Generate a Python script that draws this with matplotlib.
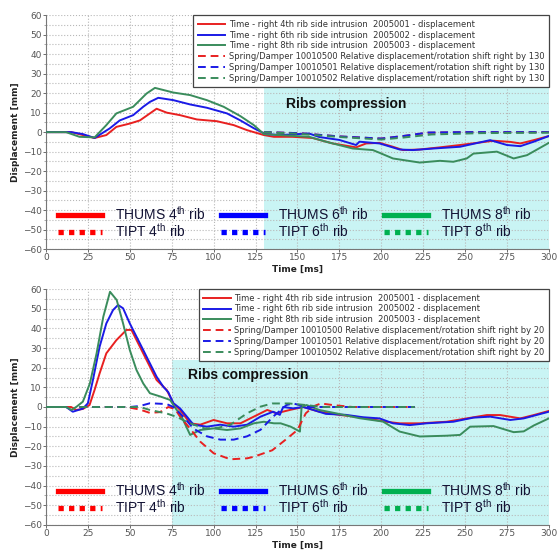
import matplotlib
matplotlib.use("Agg")
import matplotlib.pyplot as plt
from matplotlib.lines import Line2D
from matplotlib.ticker import MultipleLocator

plt.rcParams['mathtext.fontset'] = 'custom'
plt.rcParams['mathtext.rm'] = 'Liberation Sans'

# ---------------- data: top panel (TIPT shifted by 130) ----------------
top_red_t = [0, 15, 22, 29, 36, 42, 50, 56, 62, 66, 72, 80, 90, 102, 112, 120, 130, 136, 147, 159,
             171, 185, 191, 199, 207, 213, 223, 235, 247, 259, 267, 277, 283, 291, 300]
top_red_v = [0, 0, -1.5, -3, -1.5, 2.7, 4.4, 6, 9.6, 12, 10, 8.7, 6.5, 5.6, 3.6, 1, -1.5, -2.4, -2.4, -3,
             -5.8, -7.8, -5.8, -5.5, -7.5, -9.2, -8.9, -7.8, -6.6, -5.3, -4.4, -5, -5.8, -4.1, -2]

top_blue_t = [0, 15, 22, 29, 38, 44, 52, 58, 62, 67, 76, 86, 96, 108, 116, 124, 131, 140, 150, 157,
              163, 175, 185, 187, 199, 211, 219, 231, 247, 265, 275, 283, 291, 300]
top_blue_v = [0, 0, -1, -3, 1.9, 6, 8.7, 13, 15.5, 17.6, 16.4, 14.2, 12.5, 9.6, 6, 2, -1, -1.5, -1, -0.7,
              -2.5, -4, -6.6, -4.9, -5.8, -8.9, -9.2, -8.4, -7.5, -4.1, -6.6, -7.2, -4.9, -2]

top_green_t = [0, 12, 20, 29, 36, 42, 52, 60, 65, 76, 86, 96, 106, 116, 124, 130, 139, 157, 167, 183,
               195, 199, 207, 223, 235, 243, 251, 255, 269, 279, 287, 300]
top_green_v = [0, 0, -2.4, -2.7, 3.6, 9.6, 13, 19.8, 22.7, 20.3, 19, 16.4, 13, 8.2, 3.6, -1, -1.5, -2.4, -4.9, -8.4,
               -9.2, -10.6, -13.5, -15.6, -14.7, -15.2, -13.5, -11, -10, -13.5, -11.8, -5.5]

top_red_d_t = [130, 150, 175, 200, 213, 228, 250, 300]
top_red_d_v = [0, -0.5, -2.2, -3.3, -2, -0.3, 0, 0]
top_blue_d_t = [130, 150, 175, 200, 213, 228, 250, 300]
top_blue_d_v = [0, -0.5, -2.2, -3.3, -2, -0.2, 0, 0]
top_green_d_t = [130, 150, 175, 200, 213, 230, 260, 300]
top_green_d_v = [0, -0.8, -2.5, -3.8, -2.8, -1.2, -0.5, -0.3]

# ---------------- data: bottom panel (TIPT shifted by 20) ----------------
bot_red_t = [0, 15, 18, 22, 26, 29, 32, 36, 42, 48, 51, 56, 62, 66, 72, 76, 80, 86, 92, 100, 108, 116,
             124, 132, 137.5, 145.5, 153.5, 163, 175, 187, 203, 211, 223, 239, 251, 263, 271, 283, 291, 300]
bot_red_v = [0, 0, -1.5, -1, 1, 8.7, 17.1, 27.3, 34, 39.2, 39.2, 30.7, 20.5, 13.7, 8.7, 1.9, -1.5, -8.3, -9, -6.6, -8.3, -8.3,
             -4.9, -1.5, -3.2, -1.5, 0, -2.4, -4, -5.2, -7.5, -8.3, -8.3, -7.5, -5.8, -4.1, -4.1, -5.8, -4.1, -2]

bot_blue_t = [0, 12, 16, 22, 25, 28, 32, 36, 40, 43, 46, 50, 56, 62, 66, 70, 73, 76, 80, 88, 96, 104, 112,
              120, 128, 135.5, 139.5, 141.5, 147.5, 153.5, 159.5, 167, 179, 189, 199, 207, 217, 227, 243,
              255, 265, 277, 285, 300]
bot_blue_v = [0, 0, -2.4, -0.8, 1.9, 13.7, 30.7, 42.5, 49.3, 51.9, 50.2, 42.5, 32.4, 22.2, 15.4, 10.3, 7.5, 1.9, -0.7, -9, -10, -9, -10,
              -9, -4.9, -2.4, -4, 0, -0.7, 0, -1.5, -3.5, -4, -5.2, -5.8, -8.3, -9.2, -8.3, -7.5,
              -5.4, -4.9, -6.6, -5.8, -2.4]

bot_green_t = [0, 12, 15.3, 18.3, 22, 26.2, 30.2, 34.2, 38.2, 42.2, 46, 50, 54, 58, 62, 68, 74, 78, 80, 86,
               92, 100, 108, 116, 124, 130, 136, 140, 146, 151.5, 152.5, 155.5, 163, 173, 187, 201, 211, 223,
               239, 247, 253, 267, 279, 285, 291, 300]
bot_green_v = [0, 0, -1.5, 0.2, 2.7, 12, 27.3, 45.9, 58.6, 54.4, 42.5, 29, 18.8, 12, 7, 5.4, 3.6, -1.5, -3.2, -14.2,
               -11.7, -10.9, -11.7, -10.9, -8.3, -7.5, -8.3, -8.3, -10, -12.5, 0.2, 1, -1.5, -3.2, -5.7, -7.4, -12.5, -15,
               -14.6, -14.2, -10, -9.7, -12.8, -12.4, -9.4, -5.8]

bot_red_d_t = [20, 48, 56, 62, 68, 73, 77, 80, 86, 92, 100, 110, 120, 124, 135, 143, 150, 155, 160, 164, 171, 183, 220]
bot_red_d_v = [0, 0, -1.3, -3, -2.6, 0, -1, -4.9, -11, -17.6, -23.5, -26.6, -26.1, -25.3, -22, -16.6, -11.7, -3.2, 0.5, 1.8, 1, 0, 0]
bot_blue_d_t = [20, 50, 56, 62, 72, 76, 82, 88, 96, 104, 112, 120, 128, 135.5, 143.5, 147.5, 155.5, 220]
bot_blue_d_v = [0, 0, 0.5, 1.9, 1.5, 0, -5, -11, -14.9, -16.6, -16.6, -14.9, -11.6, -4.9, 1, 1.8, 0, 0]
bot_green_d_t = [20, 56, 62, 72, 78, 85, 95, 103, 110, 120, 128, 135, 145, 155, 165, 220]
bot_green_d_v = [0, 0, -1.5, -3.3, -5, -8, -11, -10.5, -9, -3.2, 0.2, 1.8, 1.8, 1, 0, 0]

legend_labels_thums = ["Time - right 4th rib side intrusion  2005001 - displacement",
                       "Time - right 6th rib side intrusion  2005002 - displacement",
                       "Time - right 8th rib side intrusion  2005003 - displacement"]
legend_labels_tipt = ["Spring/Damper 10010500 Relative displacement/rotation shift right by {}",
                      "Spring/Damper 10010501 Relative displacement/rotation shift right by {}",
                      "Spring/Damper 10010502 Relative displacement/rotation shift right by {}"]
custom_labels = ["THUMS 4$^{\\mathrm{th}}$ rib", "TIPT 4$^{\\mathrm{th}}$ rib",
                 "THUMS 6$^{\\mathrm{th}}$ rib", "TIPT 6$^{\\mathrm{th}}$ rib",
                 "THUMS 8$^{\\mathrm{th}}$ rib", "TIPT 8$^{\\mathrm{th}}$ rib"]

RED, BLUE, GREEN = '#e82020', '#1a1ae6', '#3a8c5c'
CRED, CBLUE, CGREEN = '#ff0000', '#0000ff', '#00b050'
SHADE = '#c9f4f4'

fig = plt.figure(figsize=(5.6, 5.5), dpi=100)
ax1 = fig.add_axes([0.0821, 0.547, 0.898, 0.4255])
ax2 = fig.add_axes([0.0821, 0.0455, 0.898, 0.429])

panels = [
    (ax1, 130, 23, (143, 14.5),
     [(top_red_t, top_red_v), (top_blue_t, top_blue_v), (top_green_t, top_green_v)],
     [(top_red_d_t, top_red_d_v), (top_blue_d_t, top_blue_d_v), (top_green_d_t, top_green_d_v)]),
    (ax2, 75, 24, (85, 16.3),
     [(bot_red_t, bot_red_v), (bot_blue_t, bot_blue_v), (bot_green_t, bot_green_v)],
     [(bot_red_d_t, bot_red_d_v), (bot_blue_d_t, bot_blue_d_v), (bot_green_d_t, bot_green_d_v)]),
]

for ax, shade_start, shade_top, txt_pos, solids, dashes in panels:
    shift = 130 if ax is ax1 else 20
    ax.set_xlim(0, 300)
    ax.set_ylim(-60, 60)
    ax.axvspan(shade_start, 300, ymin=0, ymax=(shade_top + 60) / 120, color=SHADE, zorder=0, lw=0)
    handles = []
    for (t, v), c, lab in zip(solids, [RED, BLUE, GREEN], legend_labels_thums):
        h, = ax.plot(t, v, color=c, lw=1.4, label=lab, zorder=3)
        handles.append(h)
    for (t, v), c, lab in zip(dashes, [RED, BLUE, GREEN], legend_labels_tipt):
        h, = ax.plot(t, v, color=c, lw=1.4, ls=(0, (4, 2.5)), label=lab.format(shift), zorder=3)
        handles.append(h)
    ax.xaxis.set_major_locator(MultipleLocator(25))
    ax.yaxis.set_major_locator(MultipleLocator(10))
    ax.yaxis.set_minor_locator(MultipleLocator(5))
    ax.grid(True, which='major', color='#b8b8b8', ls=':', lw=0.8, zorder=1)
    ax.grid(True, which='minor', axis='y', color='#b8b8b8', ls=':', lw=0.8, zorder=1)
    ax.set_axisbelow(True)
    ax.tick_params(labelsize=6.5, colors='#555555', length=2, width=0.6, pad=1)
    ax.tick_params(which='minor', length=1.5, width=0.5, colors='#888888')
    for s in ['top', 'right']:
        ax.spines[s].set_visible(False)
    for s in ['left', 'bottom']:
        ax.spines[s].set_color('#777777')
        ax.spines[s].set_linewidth(0.8)
    ax.set_xlabel('Time [ms]', fontsize=6.5, fontweight='bold', labelpad=2, color='#222222')
    ax.set_ylabel('Displacement [mm]', fontsize=6.5, fontweight='bold', labelpad=2, color='#222222')
    ax.text(txt_pos[0], txt_pos[1], 'Ribs compression', fontsize=10, fontweight='bold',
            family='Liberation Sans', color='#111111', va='center', ha='left', zorder=4)

    leg1 = ax.legend(handles=handles, loc='upper right', fontsize=6.0, frameon=True,
                     fancybox=False, edgecolor='#444444', framealpha=1, borderaxespad=0,
                     handlelength=3.3, handletextpad=0.4, labelspacing=0.22, borderpad=0.55,
                     labelcolor='#333333')
    leg1.get_frame().set_linewidth(0.9)
    ax.add_artist(leg1)

    chandles = [Line2D([], [], color=CRED, lw=3.8), Line2D([], [], color=CRED, lw=3.8, ls=(0, (1, 1))),
                Line2D([], [], color=CBLUE, lw=3.8), Line2D([], [], color=CBLUE, lw=3.8, ls=(0, (1, 1))),
                Line2D([], [], color=CGREEN, lw=3.8), Line2D([], [], color=CGREEN, lw=3.8, ls=(0, (1, 1)))]
    leg2 = ax.legend(handles=chandles, labels=custom_labels, ncol=3, loc='lower left',
                     bbox_to_anchor=(0.012, 0.015), frameon=False, borderaxespad=0,
                     prop={'family': 'Liberation Sans', 'size': 10}, handlelength=3.2,
                     handletextpad=0.95, columnspacing=1.1, labelspacing=-0.05)
    for t in leg2.get_texts():
        t.set_color('#111133')

fig.savefig('out.png', dpi=100)
